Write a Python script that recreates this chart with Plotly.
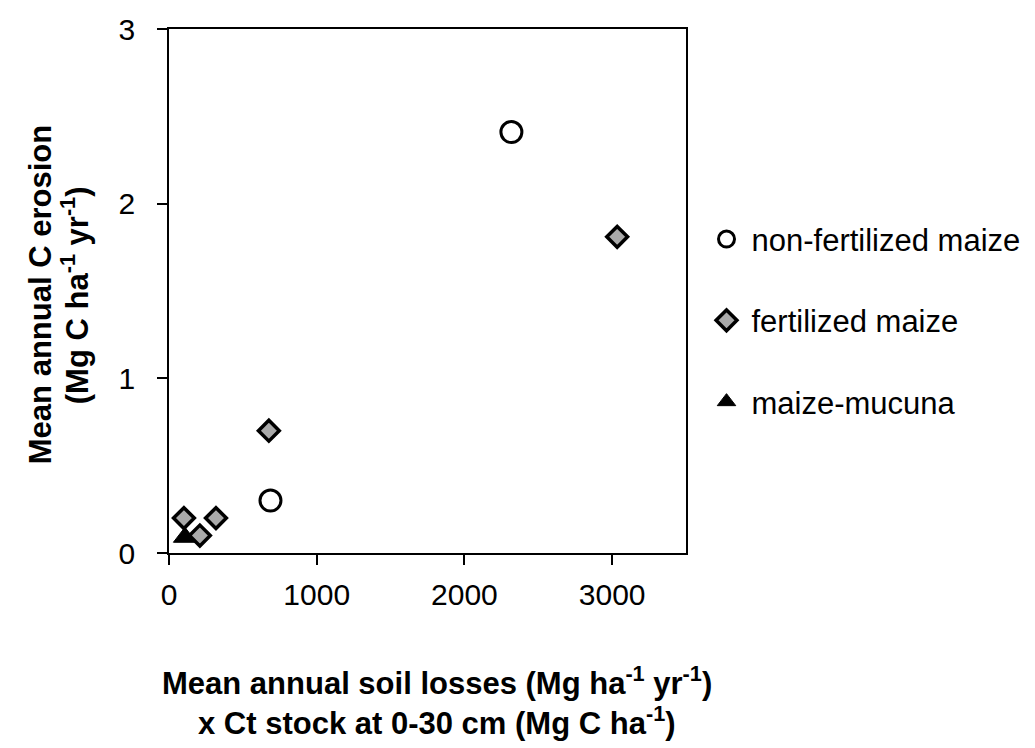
import plotly.graph_objects as go

# Data
nonfert_x = [2318, 687]
nonfert_y = [2.41, 0.30]
fert_x = [3034, 676, 101, 318, 209]
fert_y = [1.81, 0.70, 0.20, 0.20, 0.10]
mucuna_x = [108]
mucuna_y = [0.09]

x_ticks = [0, 1000, 2000, 3000]
y_ticks = [0, 1, 2, 3]

y_title_1 = "<b>Mean annual C erosion</b>"
y_title_2 = "<b>(Mg C ha<sup>-1</sup> yr<sup>-1</sup>)</b>"
x_title_1 = "<b>Mean annual soil losses (Mg ha<sup>-1</sup> yr<sup>-1</sup>)</b>"
x_title_2 = "<b>x Ct stock at 0-30 cm (Mg C ha<sup>-1</sup>)</b>"

FONT = "Liberation Sans, Arial, sans-serif"

fig = go.Figure()

fig.add_trace(go.Scatter(
    x=mucuna_x, y=mucuna_y, mode="markers", name="maize-mucuna",
    legendrank=3, legendgroup="c",
    marker=dict(symbol="triangle-up", size=20, color="black",
                line=dict(color="black", width=1)),
))
fig.add_trace(go.Scatter(
    x=nonfert_x, y=nonfert_y, mode="markers", name="non-fertilized maize",
    legendrank=1, legendgroup="a",
    marker=dict(symbol="circle-open", size=21, color="black",
                line=dict(color="black", width=3)),
))
fig.add_trace(go.Scatter(
    x=fert_x, y=fert_y, mode="markers", name="fertilized maize",
    legendrank=2, legendgroup="b",
    marker=dict(symbol="diamond", size=16, color="#a9a9a9",
                line=dict(color="black", width=3.5)),
))

title_font = dict(size=31, family=FONT, color="black")

fig.update_layout(
    width=1035, height=748,
    margin=dict(l=161, r=357, t=21, b=203),
    paper_bgcolor="white", plot_bgcolor="white",
    font=dict(family=FONT, size=30, color="black"),
    showlegend=True,
    legend=dict(
        x=1.03, xanchor="left", y=0.65, yanchor="top",
        font=dict(size=31, family=FONT, color="black"),
        traceorder="grouped", tracegroupgap=38,
        bgcolor="rgba(0,0,0,0)", itemwidth=40,
    ),
    xaxis=dict(
        range=[0, 3500], tickvals=x_ticks, ticktext=[str(v) for v in x_ticks],
        showgrid=False, zeroline=False, automargin=False,
        showline=True, linecolor="black", linewidth=1.5, mirror=True,
        ticks="outside", ticklen=10, tickwidth=1.5, tickcolor="black",
        tickfont=dict(size=30, family=FONT), ticklabelstandoff=4,
    ),
    yaxis=dict(
        range=[0, 3], tickvals=y_ticks, ticktext=[str(v) for v in y_ticks],
        showgrid=False, zeroline=False, automargin=False,
        showline=True, linecolor="black", linewidth=1.5, mirror=True,
        ticks="outside", ticklen=10, tickwidth=1.5, tickcolor="black",
        tickfont=dict(size=30, family=FONT), ticklabelstandoff=16,
    ),
    annotations=[
        dict(text=y_title_1, xref="paper", yref="paper", x=-0.2495, y=0.492,
             xanchor="center", yanchor="middle", textangle=-90, showarrow=False,
             font=dict(size=31, family=FONT, color="black")),
        dict(text=y_title_2, xref="paper", yref="paper", x=-0.1818, y=0.492,
             xanchor="center", yanchor="middle", textangle=-90, showarrow=False,
             font=dict(size=31, family=FONT, color="black")),
        dict(text=x_title_1, xref="paper", yref="paper", x=0.518, y=-0.244,
             xanchor="center", yanchor="middle", showarrow=False, font=title_font),
        dict(text=x_title_2, xref="paper", yref="paper", x=0.518, y=-0.32,
             xanchor="center", yanchor="middle", showarrow=False, font=title_font),
    ],
)

fig.write_html("out.html")
